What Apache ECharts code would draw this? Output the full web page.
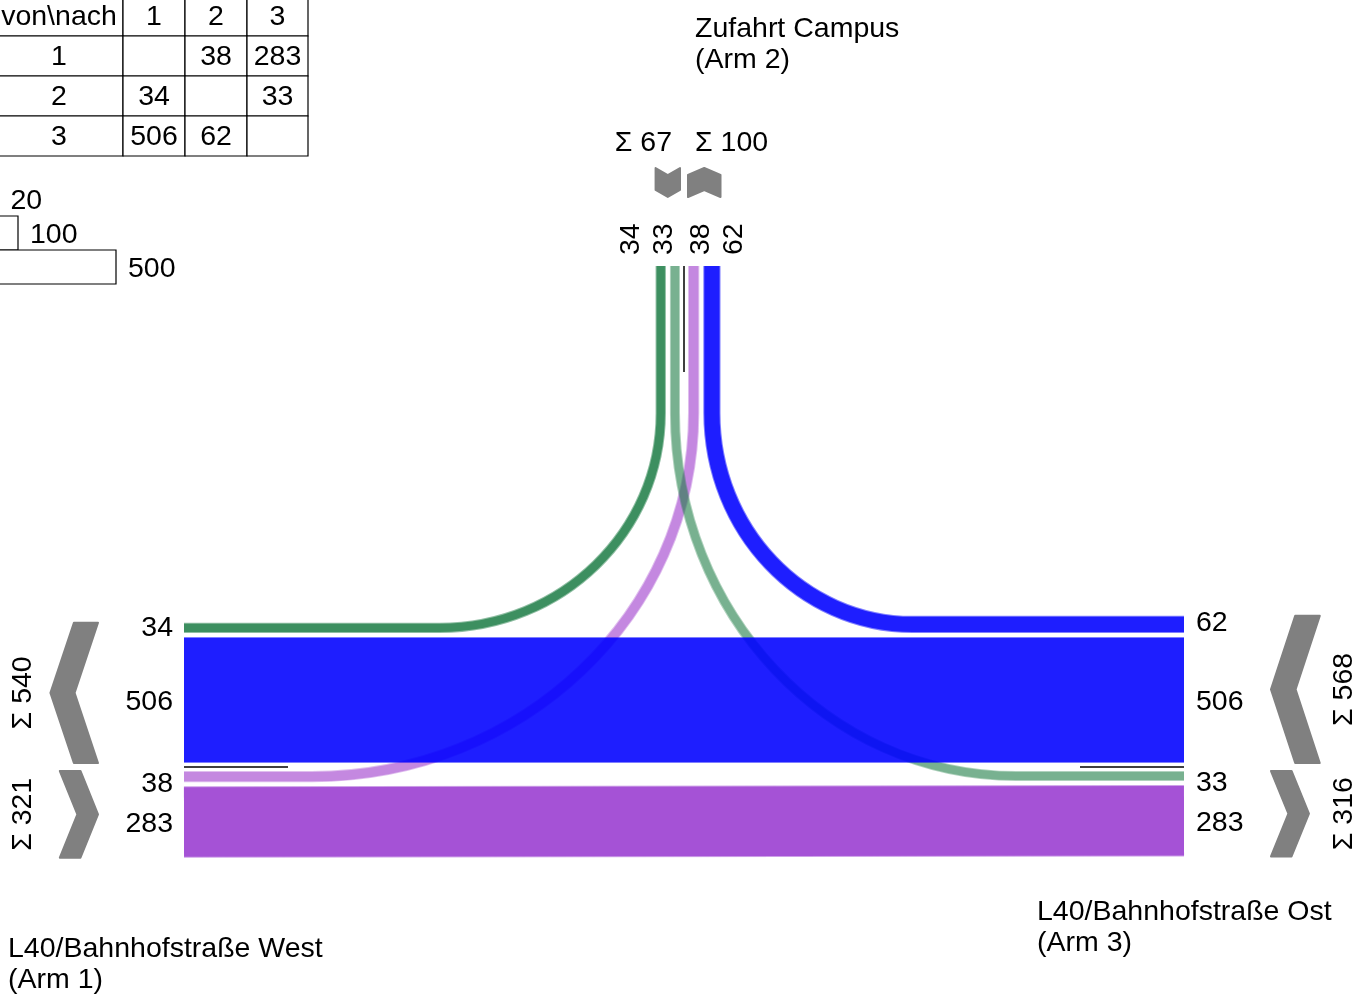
<!DOCTYPE html>
<html>
<head>
<meta charset="utf-8">
<title>Knotenstrombelastung</title>
<script src="https://cdn.jsdelivr.net/npm/echarts@6/dist/echarts.min.js"></script>
<style>
  html, body { margin: 0; padding: 0; background: #fff; }
  #chart { width: 1357px; height: 994px; }
</style>
</head>
<body>
<div id="chart"></div>
<script>
// von\nach Matrix (Arm 1..3), Kfz
const arms = ['1', '2', '3'];
const fromArm1 = [null, 38, 283];
const fromArm2 = [34, null, 33];
const fromArm3 = [506, 62, null];
const scaleValues = [20, 100, 500];
const armTitles = ['L40/Bahnhofstraße West\n(Arm 1)', 'Zufahrt Campus\n(Arm 2)', 'L40/Bahnhofstraße Ost\n(Arm 3)'];

const matrix = [fromArm1, fromArm2, fromArm3];

// layout (pixel space of the hidden axes)
const K = 0.245;        // px je Kfz
const EDGE = 2;
const GAP = 4;
const DIV_X = 684, DIV_Y = 767;
const WEST_X = 184, EAST_X = 1184, NORTH_Y = 266, TURN_Y = 413;
const FONT = '28.5px "Liberation Sans", Arial, sans-serif';
const TY = 2;           // text baseline nudge
const GREY = '#808080';

// [rgb, fill alpha, edge alpha]
const flowColors = {
  '01': ['148,40,200', 0.55, 0.3],
  '02': ['145,45,205', 0.82, 0.45],
  '10': ['30,125,70', 0.86, 0.5],
  '12': ['30,125,70', 0.6, 0.35],
  '20': ['0,0,255', 0.88, 0.5],
  '21': ['0,0,255', 0.88, 0.5]
};
// horizontal reach of each turn relative to its vertical drop
const turnAspect = { '10': 1.03, '21': 0.95, '01': 1.05, '12': 0.94 };
const laneLabelNudge = { '01': 5, '12': 5, '21': -3, '10': -2 };

const bw = v => v * K + EDGE;
const sum = a => a.reduce((s, v) => s + (v || 0), 0);

// stack lanes outward from a divider line
function stack(list, start, dir) {
  const out = { lanes: [] };
  let p = start + dir * GAP;
  list.forEach(([f, t]) => {
    const w = bw(matrix[f][t]);
    const lane = { key: '' + f + t, v: matrix[f][t], c: p + dir * w / 2, lo: Math.min(p, p + dir * w), hi: Math.max(p, p + dir * w) };
    out[lane.key] = lane;
    out.lanes.push(lane);
    p += dir * (w + GAP);
  });
  out.lo = Math.min(...out.lanes.map(l => l.lo));
  out.hi = Math.max(...out.lanes.map(l => l.hi));
  return out;
}

const westIn = stack([[2, 0], [1, 0]], DIV_Y, -1);
const westOut = stack([[0, 1], [0, 2]], DIV_Y, 1);
const eastOut = stack([[2, 0], [2, 1]], DIV_Y, -1);
const eastIn = stack([[1, 2], [0, 2]], DIV_Y, 1);
const northOut = stack([[1, 2], [1, 0]], DIV_X, -1);
const northIn = stack([[0, 1], [2, 1]], DIV_X, 1);

const CB = 0.5523;
function turnPath(key, xv, yh, xSide) {
  const r = yh - TURN_Y;
  const a = r * turnAspect[key];
  const s = Math.sign(xSide - xv);
  const xs = xv + s * a;
  return [['M', xv, NORTH_Y], ['L', xv, TURN_Y],
          ['C', xv, TURN_Y + CB * r, xs - s * CB * a, yh, xs, yh], ['L', xSide, yh]];
}

function flowSpec(key, cmds) {
  const v = matrix[+key[0]][+key[1]];
  const [rgb, a, e] = flowColors[key];
  // inner alpha so that inner over edge layer gives the target alpha
  const inner = (a - e) / (1 - e);
  return { kind: 'flow', cmds, w: v * K, c: ['rgba(' + rgb + ',' + inner.toFixed(3) + ')', 'rgba(' + rgb + ',' + e + ')'] };
}

const curveSpecs = [
  flowSpec('10', turnPath('10', northOut['10'].c, westIn['10'].c, WEST_X)),
  flowSpec('21', turnPath('21', northIn['21'].c, eastOut['21'].c, EAST_X)),
  flowSpec('01', turnPath('01', northIn['01'].c, westOut['01'].c, WEST_X)),
  flowSpec('12', turnPath('12', northOut['12'].c, eastIn['12'].c, EAST_X))
];
const straightSpecs = [
  flowSpec('02', [['M', WEST_X, westOut['02'].c], ['L', EAST_X, eastIn['02'].c]]),
  flowSpec('20', [['M', EAST_X, eastOut['20'].c], ['L', WEST_X, westIn['20'].c]])
];

// chevrons
function sideChevron(y0, y1, edge, pointLeft, anchorRight) {
  const span = y1 - y0, ym = (y0 + y1) / 2;
  const t = 15 + 0.065 * span, d = 8 + 0.11 * span;
  if (pointLeft) {
    const R = anchorRight ? edge : edge + t + d;
    return [[R - t, y0], [R, y0], [R - d, ym], [R, y1], [R - t, y1], [R - t - d, ym]];
  }
  const L = anchorRight ? edge - t - d : edge;
  return [[L, y0], [L + t, y0], [L + t + d, ym], [L + t, y1], [L, y1], [L + d, ym]];
}
function topChevron(x0, x1, down) {
  const y0 = 168, y1 = 197, d = 7, xm = (x0 + x1) / 2;
  return down
    ? [[x0, y0], [xm, y0 + d], [x1, y0], [x1, y1 - d], [xm, y1], [x0, y1 - d]]
    : [[x0, y0 + d], [xm, y0], [x1, y0 + d], [x1, y1], [xm, y1 - d], [x0, y1]];
}
const LCH = WEST_X - 86, RCH = EAST_X + 87;
const chevronSpecs = [
  { kind: 'poly', pts: sideChevron(westIn.lo, westIn.hi, LCH, true, true) },
  { kind: 'poly', pts: sideChevron(westOut.lo, westOut.hi, LCH, false, true) },
  { kind: 'poly', pts: sideChevron(eastOut.lo, eastOut.hi, RCH, true, false) },
  { kind: 'poly', pts: sideChevron(eastIn.lo, eastIn.hi, RCH, false, false) },
  { kind: 'poly', pts: topChevron(northOut.lo, northOut.hi, true) },
  { kind: 'poly', pts: topChevron(northIn.lo, northIn.hi, false) }
];

// divider lines
const dividerSpecs = [
  { kind: 'line', cmds: [['M', WEST_X, DIV_Y], ['L', WEST_X + 104, DIV_Y]] },
  { kind: 'line', cmds: [['M', EAST_X - 104, DIV_Y], ['L', EAST_X, DIV_Y]] },
  { kind: 'line', cmds: [['M', DIV_X, NORTH_Y], ['L', DIV_X, NORTH_Y + 106]] }
];

// texts
const textSpecs = [];
const T = (text, x, y, align, rot) => textSpecs.push({ kind: 'text', text: String(text), x, y, align: align || 'center', rot: rot || 0 });
westIn.lanes.concat(westOut.lanes).forEach(l => T(l.v, WEST_X - 11, l.c + TY + (laneLabelNudge[l.key] || 0), 'right'));
eastOut.lanes.concat(eastIn.lanes).forEach(l => T(l.v, EAST_X + 12, l.c + TY + (laneLabelNudge[l.key] || 0), 'left'));
const northLabelOff = { '12': -21, '10': -54, '01': 16, '21': 49 };
northOut.lanes.concat(northIn.lanes).forEach(l => T(l.v, DIV_X + northLabelOff[l.key] + 1, NORTH_Y - 11, 'left', Math.PI / 2));
const toArm = j => sum(matrix.map(r => r[j]));
const fromArm = i => sum(matrix[i]);
T('Σ ' + toArm(0), WEST_X - 161, (westIn.lo + westIn.hi) / 2, 'center', Math.PI / 2);
T('Σ ' + fromArm(0), WEST_X - 161, (westOut.lo + westOut.hi) / 2, 'center', Math.PI / 2);
T('Σ ' + fromArm(2), EAST_X + 160, (eastOut.lo + eastOut.hi) / 2, 'center', Math.PI / 2);
T('Σ ' + toArm(2), EAST_X + 160, (eastIn.lo + eastIn.hi) / 2, 'center', Math.PI / 2);
T('Σ ' + fromArm(1), northOut.hi - 8, 141 + TY, 'right');
T('Σ ' + toArm(1), northIn.lo + 7, 141 + TY, 'left');

// von\nach table
const TAB_X0 = -5, COL_W = [128, 62, 62, 61], TAB_Y0 = -4, ROW_H = 40;
const tableRows = [['von\\nach'].concat(arms)].concat(matrix.map((r, i) => [arms[i]].concat(r.map(v => v == null ? '' : v))));
const tableSpecs = [];
tableRows.forEach((row, ri) => {
  let x = TAB_X0;
  row.forEach((cell, ci) => {
    const y = TAB_Y0 + ri * ROW_H;
    tableSpecs.push({ kind: 'rect', x, y, w: COL_W[ci], h: ROW_H });
    tableSpecs.push({ kind: 'text', text: String(cell), x: x + COL_W[ci] / 2, y: y + ROW_H / 2 - 1 + TY, align: 'center', rot: 0 });
    x += COL_W[ci];
  });
});

// scale legend
const LEG_X = -6.5, LEG_Y0 = 182, LEG_H = 34;
scaleValues.forEach((v, i) => {
  const y = LEG_Y0 + i * LEG_H;
  tableSpecs.push({ kind: 'rect', x: LEG_X, y, w: v * K, h: LEG_H });
  tableSpecs.push({ kind: 'text', text: String(v), x: LEG_X + v * K + 12, y: y + LEG_H / 2 + TY, align: 'left', rot: 0 });
});

function pathData(api, cmds) {
  return cmds.map(c => {
    const pts = [];
    for (let i = 1; i < c.length; i += 2) pts.push(api.coord([c[i], c[i + 1]]).join(' '));
    return c[0] + pts.join(' ');
  }).join(' ');
}

function build(spec, api) {
  const P = (x, y) => api.coord([x, y]);
  if (spec.kind === 'flow') {
    const d = pathData(api, spec.cmds);
    const w = api.size([0, spec.w])[1];
    return {
      type: 'group',
      children: [
        { type: 'path', shape: { pathData: d }, style: { fill: 'none', stroke: spec.c[1], lineWidth: w + EDGE } },
        { type: 'path', shape: { pathData: d }, style: { fill: 'none', stroke: spec.c[0], lineWidth: w } }
      ]
    };
  }
  if (spec.kind === 'line') {
    return { type: 'path', shape: { pathData: pathData(api, spec.cmds) }, style: { fill: 'none', stroke: '#000', lineWidth: 1.5 } };
  }
  if (spec.kind === 'poly') {
    return { type: 'polygon', shape: { points: spec.pts.map(p => P(p[0], p[1])) },
             style: { fill: GREY, stroke: GREY, lineWidth: 2, lineJoin: 'round' } };
  }
  if (spec.kind === 'rect') {
    const a = P(spec.x, spec.y), b = P(spec.x + spec.w, spec.y + spec.h);
    return { type: 'rect', shape: { x: a[0], y: a[1], width: b[0] - a[0], height: b[1] - a[1] },
             style: { fill: '#fff', stroke: '#000', lineWidth: 1.2 } };
  }
  const p = P(spec.x, spec.y);
  return {
    type: 'text', x: p[0], y: p[1], rotation: spec.rot,
    style: { text: spec.text, font: FONT, fill: '#000', align: spec.align, verticalAlign: 'middle' }
  };
}

function layer(specs, z) {
  return {
    type: 'custom',
    coordinateSystem: 'cartesian2d',
    z: z,
    silent: true,
    data: specs.map(() => [0, 0]),
    renderItem: (params, api) => build(specs[params.dataIndex], api)
  };
}

const chart = echarts.init(document.getElementById('chart'));
chart.setOption({
  animation: false,
  backgroundColor: '#fff',
  grid: { left: 0, right: 0, top: 0, bottom: 0 },
  xAxis: { type: 'value', min: 0, max: 1357, show: false },
  yAxis: { type: 'value', min: 0, max: 994, inverse: true, show: false },
  graphic: [
    { type: 'text', left: 695, top: 14, style: { text: armTitles[1], font: FONT, fill: '#000', lineHeight: 31 } },
    { type: 'text', left: 8, top: 934, style: { text: armTitles[0], font: FONT, fill: '#000', lineHeight: 31 } },
    { type: 'text', left: 1037, top: 897, style: { text: armTitles[2], font: FONT, fill: '#000', lineHeight: 31 } }
  ],
  series: [
    layer(curveSpecs, 2),
    layer(straightSpecs, 3),
    layer(dividerSpecs, 4),
    layer(chevronSpecs, 4),
    layer(tableSpecs, 5),
    layer(textSpecs, 6)
  ]
});
</script>
</body>
</html>
